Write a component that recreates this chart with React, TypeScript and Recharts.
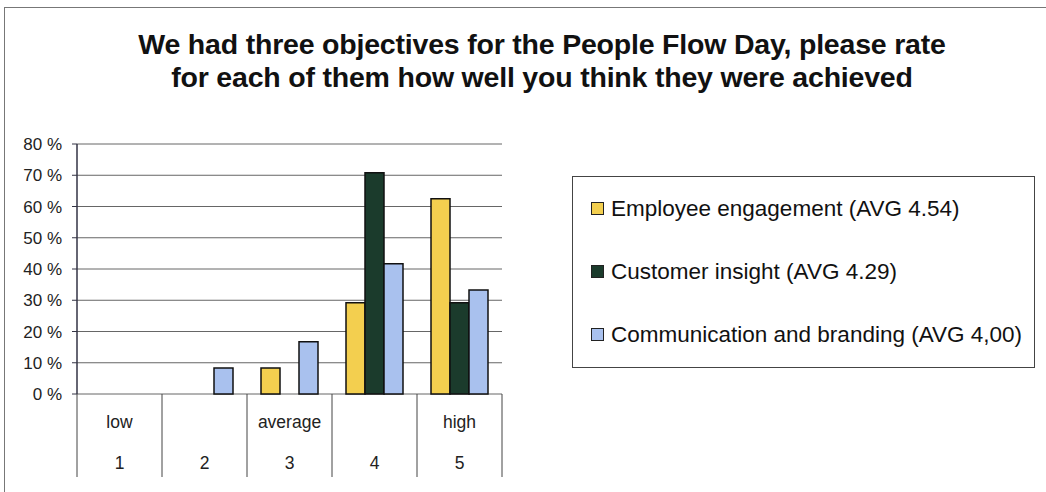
import React from 'react';
import { BarChart, Bar, XAxis, YAxis, CartesianGrid, Legend } from 'recharts';

const ratings = ['1', '2', '3', '4', '5'];
const ratingWords = ['low', '', 'average', '', 'high'];
const employeeEngagement = [0, 0, 8.3, 29.2, 62.5];
const customerInsight = [0, 0, 0, 70.8, 29.2];
const communicationBranding = [0, 8.3, 16.7, 41.7, 33.3];
const yTicks = [0, 10, 20, 30, 40, 50, 60, 70, 80];

const seriesList = [
  { key: 'employee', name: 'Employee engagement (AVG 4.54)', color: '#f3cf4f' },
  { key: 'customer', name: 'Customer insight (AVG 4.29)', color: '#1b3b2c' },
  { key: 'communication', name: 'Communication and branding (AVG 4,00)', color: '#a9c1ee' },
];

const data = ratings.map((r, i) => ({
  rating: r,
  word: ratingWords[i],
  employee: employeeEngagement[i],
  customer: customerInsight[i],
  communication: communicationBranding[i],
}));

const W = 1046;
const H = 492;
const margin = { top: 144, right: 544, bottom: 15, left: 0 };
const yAxisWidth = 77;
const xAxisHeight = 83;
const plotWidth = W - margin.left - margin.right - yAxisWidth;
const bandWidth = plotWidth / ratings.length;
const font = 'Arial, "Liberation Sans", sans-serif';

const CategoryTick = (props: any) => {
  const { x, y, payload, index } = props;
  const half = bandWidth / 2;
  const word = ratingWords[index] ?? '';
  return (
    <g>
      <line x1={x - half} y1={y} x2={x - half} y2={y + xAxisHeight} stroke="#444" strokeWidth={1} />
      {index === ratings.length - 1 && (
        <line x1={x + half} y1={y} x2={x + half} y2={y + xAxisHeight} stroke="#444" strokeWidth={1} />
      )}
      <text x={x} y={y + 34} textAnchor="middle" fontSize={17.5} fontFamily={font} fill="#222">
        {word}
      </text>
      <text x={x} y={y + 75} textAnchor="middle" fontSize={17.5} fontFamily={font} fill="#222">
        {payload.value}
      </text>
    </g>
  );
};

const LegendBox = () => (
  <div
    style={{
      width: 463,
      height: 192,
      border: '1px solid #444',
      boxSizing: 'border-box',
      background: '#fff',
      fontFamily: font,
      fontSize: 22.5,
      color: '#111',
      paddingLeft: 18,
      paddingTop: 0,
    }}
  >
    {seriesList.map((s) => (
      <div key={s.key} style={{ display: 'flex', alignItems: 'center', height: 63 }}>
        <span
          style={{
            display: 'inline-block',
            width: 11,
            height: 11,
            background: s.color,
            border: '1.5px solid #222',
            marginRight: 7,
          }}
        />
        <span>{s.name}</span>
      </div>
    ))}
  </div>
);

export default function App() {
  return (
    <div
      style={{
        position: 'absolute',
        left: 0,
        top: 0,
        width: W,
        height: H,
        background: '#fff',
        overflow: 'hidden',
      }}
    >
      <div
        style={{
          position: 'absolute',
          left: 4,
          top: 7,
          width: 1100,
          height: 520,
          border: '1px solid #777',
        }}
      />
      <div
        style={{
          position: 'absolute',
          left: 0,
          top: 28,
          width: 1084,
          textAlign: 'center',
          fontFamily: font,
          fontWeight: 'bold',
          fontSize: 28.5,
          lineHeight: '33px',
          color: '#111',
          letterSpacing: -0.2,
        }}
      >
        We had three objectives for the People Flow Day, please rate
        <br />
        for each of them how well you think they were achieved
      </div>
      <div style={{ position: 'absolute', left: 0, top: 0 }}>
        <BarChart width={W} height={H} data={data} margin={margin} barCategoryGap={14} barGap={0}>
          <CartesianGrid horizontal vertical={false} stroke="#666" strokeWidth={1} />
          <XAxis
            dataKey="rating"
            xAxisId={0}
            height={xAxisHeight}
            axisLine={false}
            tickLine={false}
            tickSize={0}
            tickMargin={0}
            interval={0}
            tick={<CategoryTick />}
          />
          <YAxis
            yAxisId={0}
            domain={[0, 80]}
            ticks={yTicks}
            width={yAxisWidth}
            tickFormatter={(v: number) => `${v} %`}
            tick={{ fill: '#222', fontSize: 17, fontFamily: font }}
            axisLine={{ stroke: '#334', strokeWidth: 1.5 }}
            tickLine={{ stroke: '#334' }}
            tickSize={5}
            tickMargin={10}
          />
          <YAxis
            yAxisId={1}
            orientation="right"
            domain={[0, 80]}
            width={0}
            tick={false}
            tickLine={false}
            axisLine={{ stroke: '#555' }}
          />
          {seriesList.map((s) => (
            <Bar
              key={s.key}
              dataKey={s.key}
              name={s.name}
              fill={s.color}
              stroke="#111"
              strokeWidth={1.5}
              yAxisId={0}
              isAnimationActive={false}
            />
          ))}
          <Legend
            layout="vertical"
            align="center"
            verticalAlign="middle"
            content={<LegendBox />}
            wrapperStyle={{ left: 572, top: 176, width: 463, height: 192 }}
          />
        </BarChart>
      </div>
    </div>
  );
}
